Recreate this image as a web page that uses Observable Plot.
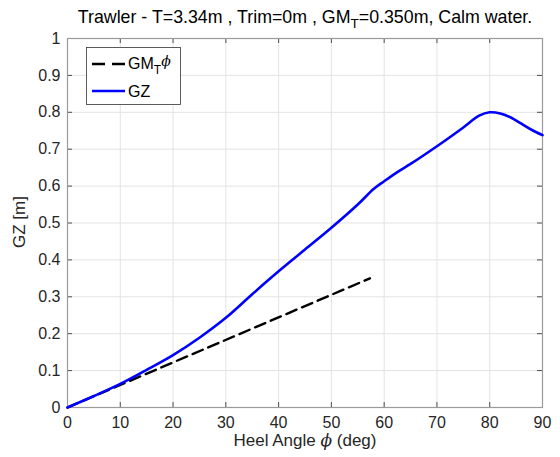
<!DOCTYPE html>
<html>
<head>
<meta charset="utf-8">
<script src="https://cdn.jsdelivr.net/npm/d3@7"></script>
<script src="https://cdn.jsdelivr.net/npm/@observablehq/plot@0.6"></script>
<style>
  html, body { margin: 0; padding: 0; background: #fff; }
  #chart { width: 560px; height: 457px; }
</style>
</head>
<body>
<div id="chart"></div>
<script>
// ---- data ----
const heelAngle = [0, 5, 10, 15, 20, 25, 30, 35, 40, 45, 50, 55, 58, 60, 62.5, 65, 70, 75, 78, 80, 82, 84, 86, 88, 90];
const gzValues  = [0, 0.031, 0.064, 0.102, 0.142, 0.189, 0.243, 0.307, 0.369, 0.428, 0.487, 0.55, 0.592, 0.613, 0.638, 0.66, 0.708, 0.759, 0.791, 0.80, 0.797, 0.786, 0.769, 0.752, 0.738];
const gmAngle = [0, 57.3];
const gmValues = [0, 0.35];
const xTicks = [0, 10, 20, 30, 40, 50, 60, 70, 80, 90];
const yTicks = [0, 0.1, 0.2, 0.3, 0.4, 0.5, 0.6, 0.7, 0.8, 0.9, 1];
const titleMain = "Trawler - T=3.34m , Trim=0m , GM";
const titleSub = "T";
const titleEnd = "=0.350m, Calm water.";
const xLabel = ["Heel Angle ", "\u03D5", " (deg)"];
const yLabel = "GZ [m]";
const legendGM = ["GM", "T", "\u03D5"];
const legendGZ = "GZ";

const gz = heelAngle.map((a, i) => ({a, v: gzValues[i]}));
const gm = gmAngle.map((a, i) => ({a, v: gmValues[i]}));

const FONT = "'Liberation Sans', Arial, Helvetica, sans-serif";
const TXT = "#262626";
const tickLenX = 5 / 369;     // inward tick length in y-units
const tickLenY = 5 / (475/90); // inward tick length in x-units

const svg = Plot.plot({
  width: 560,
  height: 457,
  marginLeft: 67,
  marginRight: 18,
  marginTop: 38,
  marginBottom: 50,
  style: {fontFamily: FONT, fontSize: "16px", color: TXT, background: "#fff"},
  x: {domain: [0, 90]},
  y: {domain: [0, 1]},
  marks: [
    Plot.gridX(xTicks, {stroke: "#e3e3e3", strokeOpacity: 1}),
    Plot.gridY(yTicks, {stroke: "#e3e3e3", strokeOpacity: 1}),
    Plot.ruleX(xTicks, {x: d => d, y1: 0, y2: tickLenX, stroke: TXT, strokeWidth: 0.8}),
    Plot.ruleX(xTicks, {x: d => d, y1: 1 - tickLenX, y2: 1, stroke: TXT, strokeWidth: 0.8}),
    Plot.ruleY(yTicks, {y: d => d, x1: 0, x2: tickLenY, stroke: TXT, strokeWidth: 0.8}),
    Plot.ruleY(yTicks, {y: d => d, x1: 90 - tickLenY, x2: 90, stroke: TXT, strokeWidth: 0.8}),
    Plot.axisX(xTicks, {tickSize: 0, tickPadding: 9, label: null, tickFormat: d => String(d), fill: TXT}),
    Plot.axisY(yTicks, {tickSize: 0, tickPadding: 7, label: null, tickFormat: d => String(d), fill: TXT}),
    Plot.frame({stroke: "#9a9a9a", strokeWidth: 1.2}),
    Plot.line(gm, {x: "a", y: "v", stroke: "#000", strokeWidth: 2.4, strokeDasharray: "11,6"}),
    Plot.line(gz, {x: "a", y: "v", stroke: "#0000ff", strokeWidth: 2.6, curve: "catmull-rom"})
  ]
});

document.getElementById("chart").appendChild(svg);
const s = d3.select(svg);

// title
const t = s.append("text")
  .attr("x", 305).attr("y", 23)
  .attr("text-anchor", "middle")
  .attr("font-family", FONT).attr("font-size", 17.8).attr("fill", "#000");
t.append("tspan").text(titleMain);
t.append("tspan").attr("dy", 5).attr("font-size", 13.5).text(titleSub);
t.append("tspan").attr("dy", -5).text(titleEnd);

// x label
const xl = s.append("text")
  .attr("x", 305).attr("y", 446)
  .attr("text-anchor", "middle")
  .attr("font-family", FONT).attr("font-size", 17).attr("fill", TXT);
xl.append("tspan").text(xLabel[0]);
xl.append("tspan").attr("font-style", "italic").attr("font-family", "'DejaVu Serif', serif").text(xLabel[1]);
xl.append("tspan").text(xLabel[2]);

// y label
s.append("text")
  .attr("transform", "translate(25,222) rotate(-90)")
  .attr("text-anchor", "middle")
  .attr("font-family", FONT).attr("font-size", 17).attr("fill", TXT)
  .text(yLabel);

// legend
const lg = s.append("g").attr("text-anchor", "start");
lg.append("rect").attr("x", 86.5).attr("y", 47.5).attr("width", 94).attr("height", 57)
  .attr("fill", "#fff").attr("stroke", "#333").attr("stroke-width", 0.8);
lg.append("line").attr("x1", 92).attr("x2", 125).attr("y1", 64).attr("y2", 64)
  .attr("stroke", "#000").attr("stroke-width", 2.4).attr("stroke-dasharray", "13,7");
lg.append("line").attr("x1", 92).attr("x2", 125).attr("y1", 91).attr("y2", 91)
  .attr("stroke", "#0000ff").attr("stroke-width", 2.6);
const l1 = lg.append("text").attr("x", 128).attr("y", 69).attr("text-anchor", "start")
  .attr("font-family", FONT).attr("font-size", 16).attr("fill", "#000");
l1.append("tspan").text(legendGM[0]);
l1.append("tspan").attr("dy", 5).attr("font-size", 12).text(legendGM[1]);
l1.append("tspan").attr("dy", -8).attr("font-style", "italic").attr("font-family", "'DejaVu Serif', serif").attr("font-size", 14).text(legendGM[2]);
lg.append("text").attr("x", 128).attr("y", 97).attr("text-anchor", "start")
  .attr("font-family", FONT).attr("font-size", 16).attr("fill", "#000").text(legendGZ);
</script>
</body>
</html>
